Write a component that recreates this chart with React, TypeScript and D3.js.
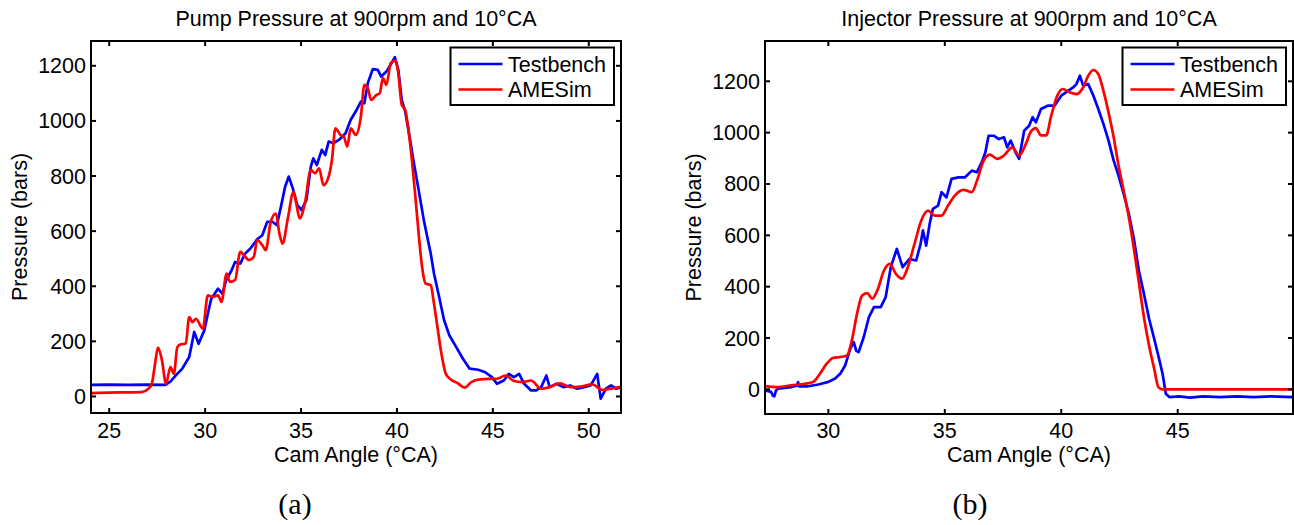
import React from "react";
import * as d3 from "d3";

// ---------- data ----------
const pumpTBAngle = [24.0,25.0,26.0,27.0,27.93,28.2,28.46,28.8,29.17,29.43,29.66,29.96,30.14,30.32,30.67,30.9,31.1,31.38,31.56,31.83,32.09,32.36,32.71,32.98,33.24,33.51,33.74,33.95,34.17,34.36,34.57,34.8,35.02,35.28,35.51,35.64,35.82,36.08,36.26,36.44,36.7,36.97,37.32,37.59,37.85,38.12,38.3,38.48,38.74,39.0,39.18,39.45,39.72,39.89,40.07,40.25,40.43,40.6,40.87,41.13,41.4,41.58,41.76,41.93,42.2,42.46,42.73,43.09,43.44,43.79,44.24,44.6,44.95,45.21,45.57,45.83,46.1,46.37,46.63,46.99,47.26,47.52,47.79,47.96,48.32,48.67,49.03,49.39,49.74,50.1,50.44,50.62,50.89,51.16,51.43,51.7];
const pumpTB = [42,43,42,43,42,55,76,100,143,234,191,240,300,355,391,373,422,458,488,482,519,537,570,585,634,634,622,688,761,798,755,695,676,713,834,864,840,895,876,925,919,931,955,1004,1034,1070,1064,1137,1188,1185,1161,1179,1210,1231,1185,1076,1034,967,852,749,640,579,519,446,361,276,222,179,137,101,97,88,70,46,58,82,70,82,46,22,22,34,76,34,46,34,40,28,34,40,82,-8,28,40,28,34];

const pumpAMAngle = [24.0,25.0,26.0,26.68,27.04,27.22,27.39,27.54,27.75,27.96,28.19,28.37,28.55,28.72,28.99,29.17,29.34,29.52,29.88,30.14,30.41,30.67,30.85,31.12,31.29,31.56,31.83,32.09,32.27,32.54,32.71,32.98,33.16,33.42,33.69,33.87,34.04,34.31,34.61,34.75,34.93,35.2,35.51,35.73,35.94,36.17,36.44,36.61,36.79,37.06,37.23,37.41,37.59,37.85,38.12,38.3,38.48,38.65,38.92,39.1,39.27,39.45,39.68,39.93,40.07,40.25,40.43,40.6,40.78,40.96,41.13,41.31,41.49,41.76,41.93,42.11,42.29,42.55,42.82,43.17,43.53,43.88,44.24,44.77,45.21,45.66,46.1,46.54,46.99,47.52,47.96,48.5,49.03,49.56,50.18,50.71,51.16,51.7];
const pumpAM = [12,14,15,16,28,46,119,177,131,46,107,82,179,189,192,288,270,282,246,367,361,367,343,446,416,422,525,507,495,507,567,549,531,634,664,592,555,646,743,701,646,701,822,810,828,767,798,858,973,949,943,907,973,949,1016,1131,1119,1076,1094,1100,1155,1131,1210,1219,1173,1058,1040,967,858,725,592,470,410,404,337,252,167,82,61,48,32,52,61,64,64,76,56,52,58,28,34,48,34,36,44,24,28,36];

const injTBAngle = [27.28,27.54,27.62,27.68,27.75,27.83,28.12,28.41,28.65,28.7,28.75,29.13,29.57,30.0,30.29,30.51,30.72,30.94,31.09,31.2,31.3,31.52,31.74,31.96,32.25,32.46,32.68,32.94,33.19,33.48,33.77,33.96,34.06,34.2,34.35,34.49,34.71,34.86,35.07,35.29,35.58,35.87,36.16,36.38,36.59,36.74,36.88,37.1,37.32,37.54,37.68,37.83,38.04,38.19,38.41,38.62,38.77,38.91,39.13,39.42,39.71,40.0,40.29,40.51,40.65,40.8,40.94,41.16,41.38,41.59,41.81,42.03,42.25,42.46,42.68,42.9,43.12,43.33,43.55,43.77,43.99,44.2,44.35,44.49,44.64,45.07,45.51,46.09,46.81,47.54,48.26,48.99,49.95];
const injTB = [-4,-10,-25,-27,-5,3,6,9,14,28,12,12,19,29,42,61,93,158,184,150,145,204,281,320,320,359,476,547,476,508,502,567,619,560,645,703,716,768,748,820,826,826,852,846,885,923,988,988,975,982,943,969,923,898,1008,1027,1060,1040,1092,1105,1105,1144,1163,1176,1189,1222,1183,1189,1144,1092,1034,969,891,833,761,684,586,463,372,275,197,119,61,-17,-30,-27,-32,-27,-30,-27,-30,-27,-30];

const injAMAngle = [27.28,27.83,28.41,28.99,29.35,29.64,29.93,30.22,30.51,30.8,31.01,31.23,31.45,31.67,31.88,32.1,32.39,32.64,32.9,33.16,33.41,33.7,33.99,34.28,34.57,34.86,35.14,35.43,35.8,36.16,36.38,36.64,36.93,37.25,37.54,37.9,38.19,38.48,38.7,38.91,39.13,39.35,39.57,39.83,40.07,40.36,40.65,40.94,41.16,41.38,41.59,41.81,42.03,42.25,42.46,42.68,42.9,43.12,43.33,43.55,43.77,43.99,44.17,44.35,49.95];
const injAM = [13,9,16,22,29,61,100,123,126,132,191,294,366,375,353,385,463,489,450,431,476,567,658,696,677,677,716,755,777,768,813,885,914,898,911,943,911,956,1005,1018,989,989,1066,1144,1170,1157,1150,1176,1222,1244,1228,1163,1079,982,872,774,671,547,418,281,171,80,9,0,0];

const yTickValues = [0, 200, 400, 600, 800, 1000, 1200];
const pumpXTicks = [25, 30, 35, 40, 45, 50];
const injXTicks = [30, 35, 40, 45];
const legendNames = ["Testbench", "AMESim"];
const seriesColors = ["#0000ff", "#ff0000"];

const FONT = "'Liberation Sans', Arial, Helvetica, sans-serif";
const FS = 21.5;

type PanelProps = {
  id: string;
  left: number; right: number; top: number; bottom: number;
  xDomain: [number, number]; yDomain: [number, number];
  xTicks: number[];
  title: string;
  tbX: number[]; tbY: number[];
  amX: number[]; amY: number[];
  ylabelX: number;
  caption: string; captionX: number;
};

function Panel(p: PanelProps) {
  const x = d3.scaleLinear().domain(p.xDomain).range([p.left, p.right]);
  const y = d3.scaleLinear().domain(p.yDomain).range([p.bottom, p.top]);
  const lineLin = d3.line<[number, number]>().x(d => x(d[0])).y(d => y(d[1]));
  const lineSmooth = d3.line<[number, number]>().x(d => x(d[0])).y(d => y(d[1])).curve(d3.curveMonotoneX);
  const tb: [number, number][] = p.tbX.map((a, i) => [a, p.tbY[i]]);
  const am: [number, number][] = p.amX.map((a, i) => [a, p.amY[i]]);
  const cx = (p.left + p.right) / 2;
  const cy = (p.top + p.bottom) / 2;
  const tickLen = 5;
  const legRight = p.right - 7;
  const legLeft = legRight - 163.5;
  const legTop = 47.5;
  const legBottom = 105;
  return (
    <g>
      <defs>
        <clipPath id={p.id}>
          <rect x={p.left} y={p.top} width={p.right - p.left} height={p.bottom - p.top} />
        </clipPath>
      </defs>
      <text x={cx} y={26} textAnchor="middle" fontFamily={FONT} fontSize={FS}>{p.title}</text>
      <g clipPath={`url(#${p.id})`} fill="none" strokeLinejoin="round">
        <path d={lineLin(tb) || ""} stroke={seriesColors[0]} strokeWidth={2.7} />
        <path d={lineSmooth(am) || ""} stroke={seriesColors[1]} strokeWidth={2.7} />
      </g>
      <g stroke="#000" strokeWidth={2}>
        {p.xTicks.map(t => (
          <g key={"xt" + t}>
            <line x1={x(t)} x2={x(t)} y1={p.bottom} y2={p.bottom - tickLen} />
            <line x1={x(t)} x2={x(t)} y1={p.top} y2={p.top + tickLen} />
          </g>
        ))}
        {yTickValues.map(t => (
          <g key={"yt" + t}>
            <line x1={p.left} x2={p.left + tickLen} y1={y(t)} y2={y(t)} />
            <line x1={p.right} x2={p.right - tickLen} y1={y(t)} y2={y(t)} />
          </g>
        ))}
      </g>
      <rect x={p.left} y={p.top} width={p.right - p.left} height={p.bottom - p.top} fill="none" stroke="#000" strokeWidth={2} />
      {p.xTicks.map(t => (
        <text key={"xl" + t} x={x(t)} y={437.5} textAnchor="middle" fontFamily={FONT} fontSize={FS}>{t}</text>
      ))}
      {yTickValues.map(t => (
        <text key={"yl" + t} x={p.left - 5} y={y(t) + 7.5} textAnchor="end" fontFamily={FONT} fontSize={FS}>{t}</text>
      ))}
      <text x={cx} y={461.5} textAnchor="middle" fontFamily={FONT} fontSize={FS}>Cam Angle (°CA)</text>
      <text transform={`translate(${p.ylabelX},${cy}) rotate(-90)`} textAnchor="middle" fontFamily={FONT} fontSize={FS}>Pressure (bars)</text>
      <rect x={legLeft} y={legTop} width={legRight - legLeft} height={legBottom - legTop} fill="#fff" stroke="#000" strokeWidth={2} />
      {legendNames.map((n, i) => (
        <g key={n}>
          <line x1={legLeft + 8} x2={legLeft + 52} y1={64 + i * 25.5} y2={64 + i * 25.5} stroke={seriesColors[i]} strokeWidth={2.7} />
          <text x={legLeft + 57.5} y={71.5 + i * 25.5} fontFamily={FONT} fontSize={FS}>{n}</text>
        </g>
      ))}
      <text x={p.captionX} y={514} textAnchor="middle" fontFamily="'Liberation Serif', 'Times New Roman', serif" fontSize={30}>{p.caption}</text>
    </g>
  );
}

export default function App() {
  return (
    <svg width={1294} height={525} style={{ position: "absolute", left: 0, top: 0, background: "#fff" }}>
      <rect x={0} y={0} width={1294} height={525} fill="#fff" />
      <Panel id="clipA" left={91} right={621} top={41} bottom={413}
        xDomain={[24.05, 51.68]} yDomain={[-60, 1290]} xTicks={pumpXTicks}
        title="Pump Pressure at 900rpm and 10°CA"
        tbX={pumpTBAngle} tbY={pumpTB} amX={pumpAMAngle} amY={pumpAM}
        ylabelX={27} caption="(a)" captionX={295} />
      <Panel id="clipB" left={765} right={1293} top={41} bottom={414}
        xDomain={[27.28, 49.95]} yDomain={[-96, 1357]} xTicks={injXTicks}
        title="Injector Pressure at 900rpm and 10°CA"
        tbX={injTBAngle} tbY={injTB} amX={injAMAngle} amY={injAM}
        ylabelX={701} caption="(b)" captionX={970} />
    </svg>
  );
}
